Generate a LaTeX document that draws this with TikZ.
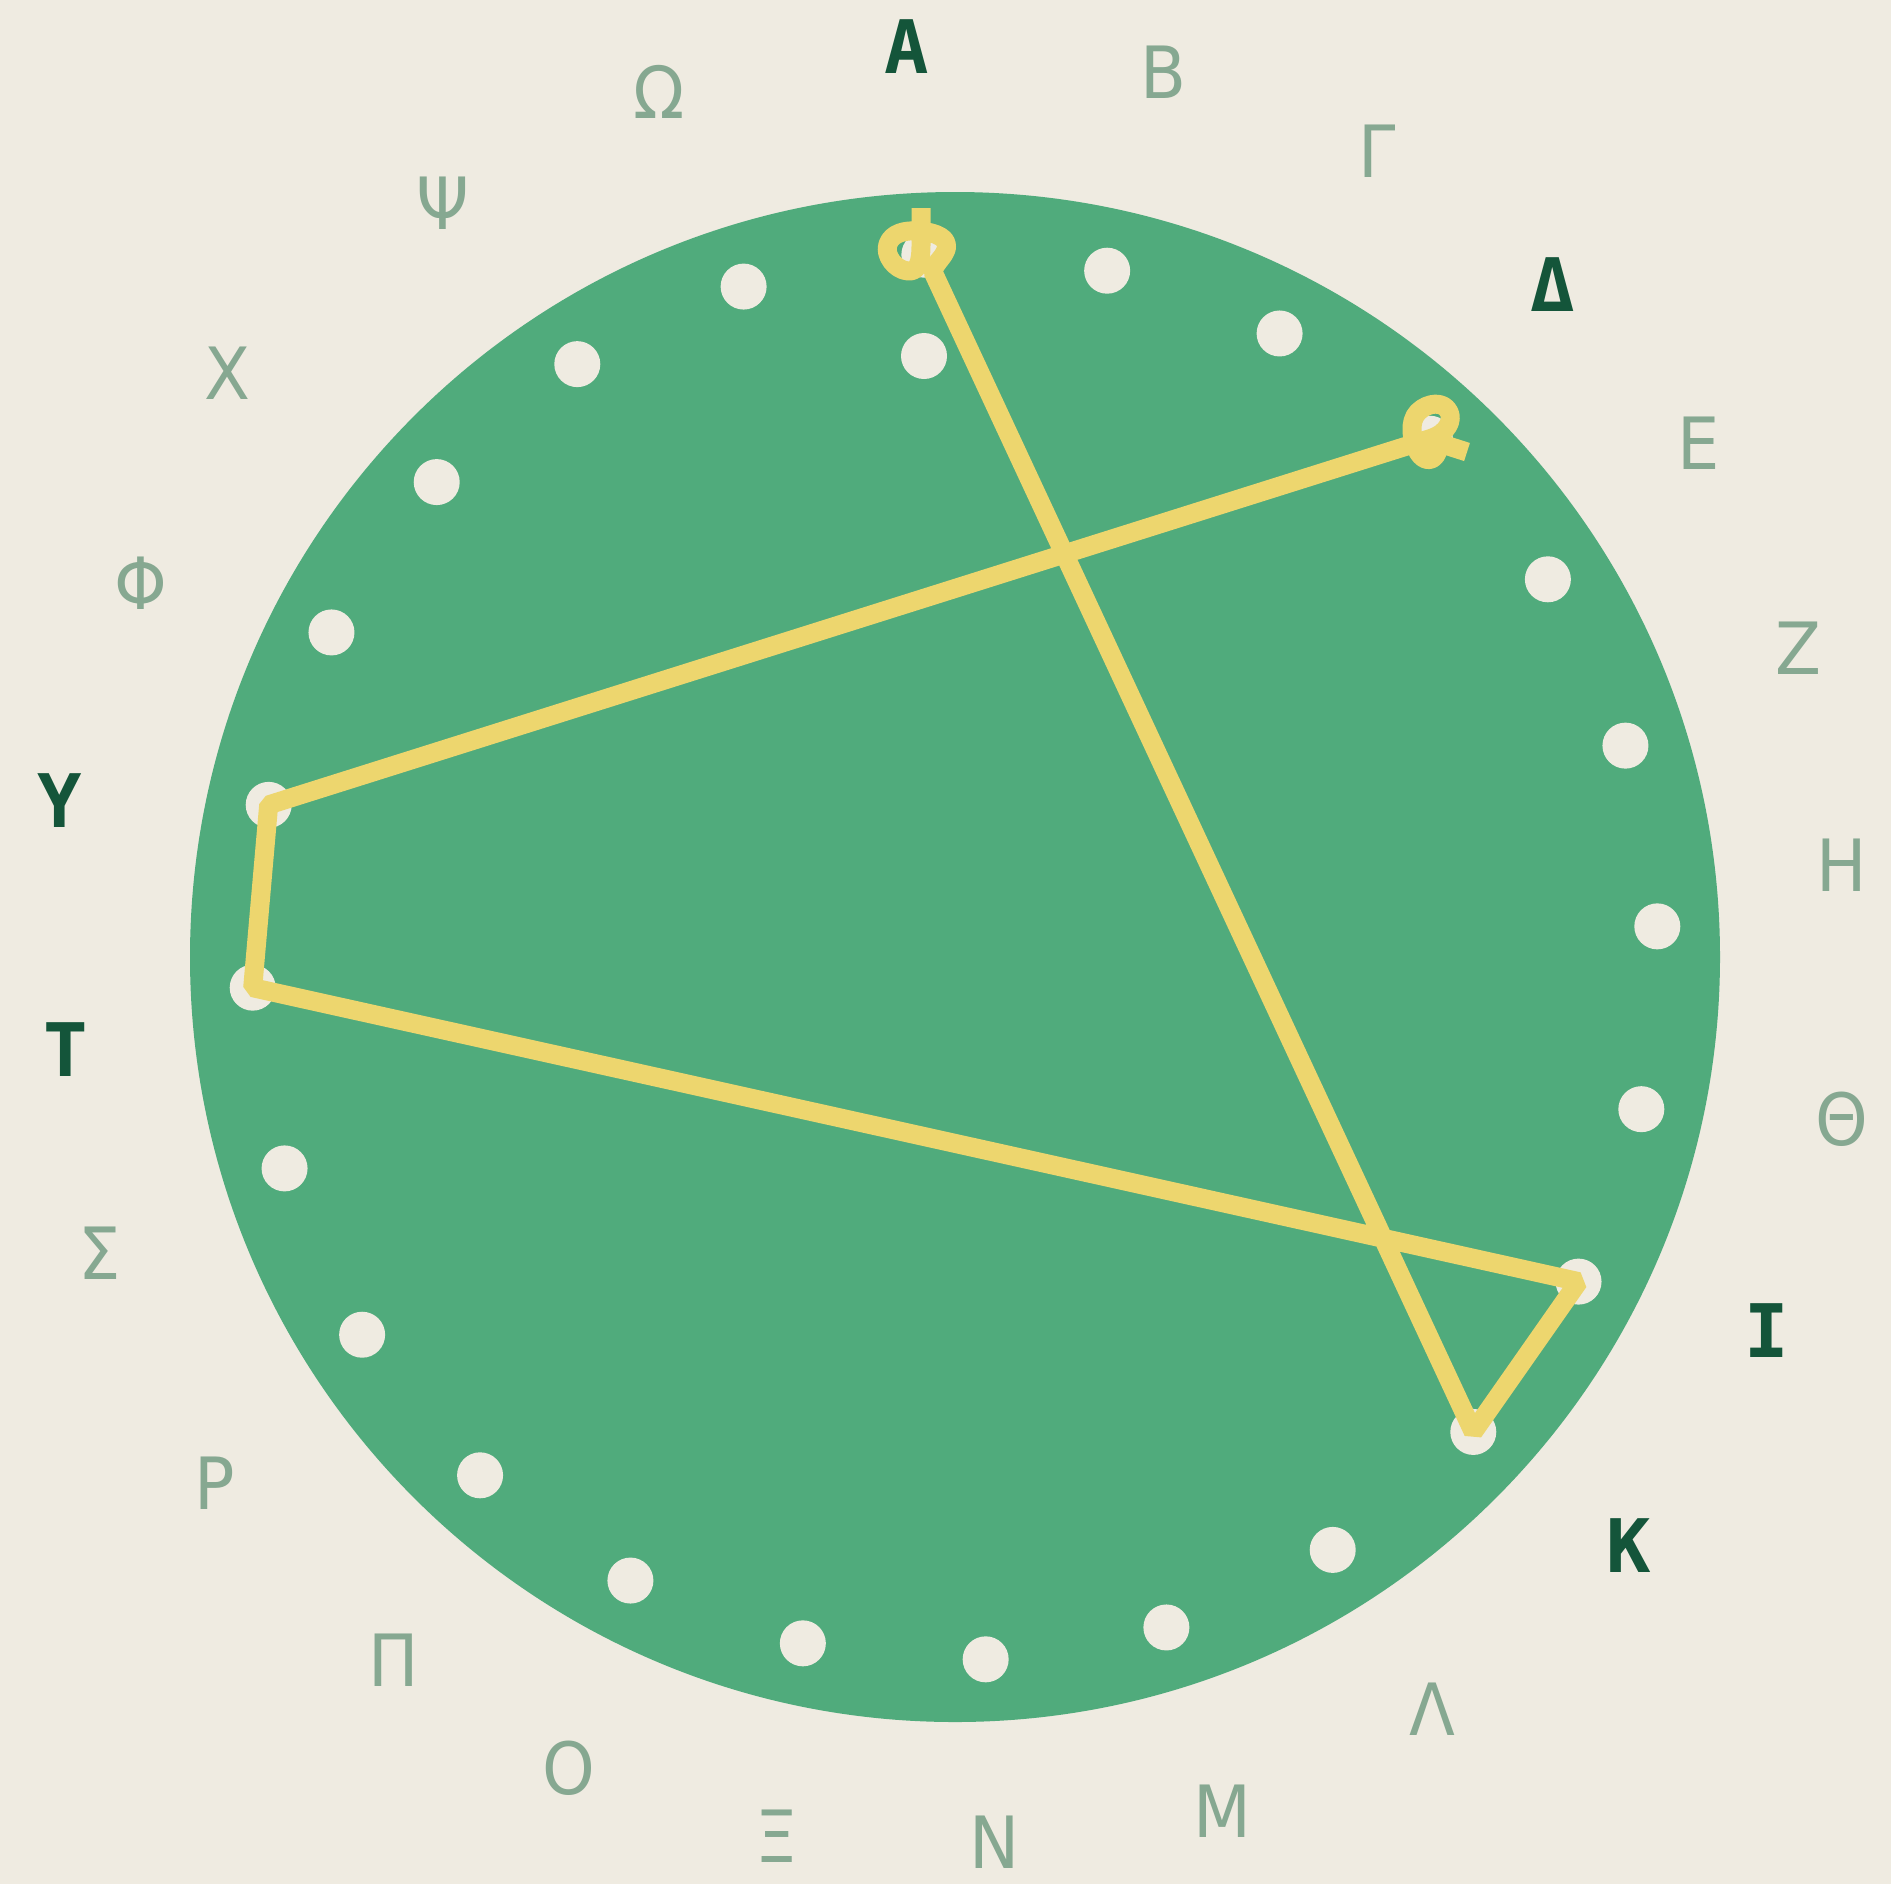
\documentclass[tikz,border=0pt]{standalone}
\usepackage{fontspec}
\newfontfamily\thinsans{DejaVu Sans}[FakeStretch=0.93]
\setmonofont{DejaVu Sans Mono}
\definecolor{paper}{HTML}{EFEBE1}
\definecolor{disc}{HTML}{50AB7C}
\definecolor{sand}{HTML}{EDD66E}
\definecolor{ink}{HTML}{14553A}
\definecolor{faint}{HTML}{86A891}
\tikzset{
  letter/.style={text=faint, font=\thinsans\fontsize{20.5}{24}\selectfont},
  hitletter/.style={text=ink, font=\ttfamily\bfseries\fontsize{21}{25}\selectfont},
  hole/.style={fill=paper},
  route/.style={draw=sand, line width=5.4pt, line join=bevel},
}
\begin{document}
\begin{tikzpicture}[x=0.01cm, y=-0.01cm]
  \fill[paper] (0,0) rectangle (1891,1884);
  \coordinate (c) at (955,957);
  \fill[disc] (c) circle (765);
  % letters round the wheel
  \foreach \i/\x/\y/\g/\s in {0/907/47/Α/hitletter, 1/1163/72/Β/letter,
      2/1377/151/Γ/letter, 3/1553/285/Δ/hitletter, 4/1699/443/Ε/letter,
      5/1798/648/Ζ/letter, 6/1842/865/Η/letter, 7/1842/1119/Θ/letter,
      8/1767/1331/Ι/hitletter, 9/1629/1546/Κ/hitletter, 10/1432/1709/Λ/letter,
      11/1222/1811/Μ/letter, 12/995/1842/Ν/letter, 13/777/1836/Ξ/letter,
      14/569/1768/Ο/letter, 15/394/1660/Π/letter, 16/215/1483/Ρ/letter,
      17/100/1253/Σ/letter, 18/66/1050/Τ/hitletter, 19/60/801/Υ/hitletter,
      20/141/583/Φ/letter, 21/227/373/Χ/letter, 22/443/203/Ψ/letter,
      23/659/92/Ω/letter}
    \node[\s] (l\i) at (\x,\y) {\g};
  % holes
  \foreach \k in {0,...,23}
    \path (c) ++(15*\k-92.5:703) coordinate (d\k);
  \foreach \k in {0,...,23}
    \fill[hole] (d\k) circle (23);
  \coordinate (inner) at (924,356);
  \fill[hole] (inner) circle (23);
  % the route
  \coordinate (start) at (921,208);
  \coordinate (stop) at (1467,452);
  \draw[route] (start) -- (921,245)
    .. controls (921,262) and (918,272) .. (908,271)
    .. controls (895,270) and (884,255) .. (888,244)
    .. controls (892,233) and (905,230) .. (918,231)
    .. controls (935,232) and (952,238) .. (945,252)
    .. controls (941,260) and (935,263) .. (933,272)
    -- (d9) -- (d8) -- (d18) -- (d19) -- (d3)
    .. controls (1448,433) and (1453,420) .. (1449,412)
    .. controls (1444,401) and (1428,402) .. (1418,412)
    .. controls (1408,422) and (1412,442) .. (1418,452)
    .. controls (1424,462) and (1433,462) .. (1437,453)
    .. controls (1438,449) and (1439,446) .. (1442,444)
    -- (stop);
\end{tikzpicture}
\end{document}
